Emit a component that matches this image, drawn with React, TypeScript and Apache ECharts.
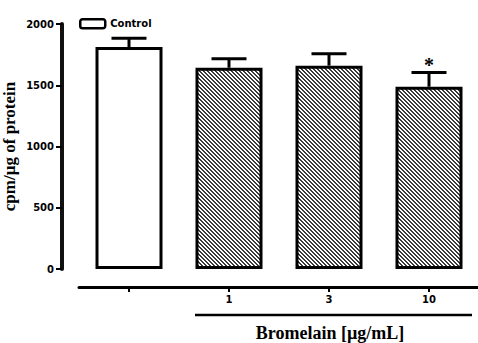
import React, { useEffect, useRef } from "react";
import * as echarts from "echarts";

const categories = ["", "1", "3", "10"];
const controlValues = [1812, "-", "-", "-"];
const bromelainValues = ["-", 1643, 1660, 1488];
const errorUpper = [1883, 1717, 1757, 1605];
const significant = [false, false, false, true];
const yTicks = { min: 0, max: 2000, interval: 500 };

function makeHatch(): HTMLCanvasElement {
  const c = document.createElement("canvas");
  c.width = 4;
  c.height = 4;
  const ctx = c.getContext("2d")!;
  ctx.fillStyle = "#ffffff";
  ctx.fillRect(0, 0, 4, 4);
  ctx.fillStyle = "#3a3a3a";
  for (let i = 0; i < 4; i++) {
    ctx.fillRect(i, i, 1, 1);
    ctx.fillRect((i + 1) % 4, i, 1, 1);
  }
  return c;
}

export default function App() {
  const ref = useRef<HTMLDivElement>(null);
  useEffect(() => {
    const chart = echarts.init(ref.current!, null, { renderer: "svg" });
    const hatch = makeHatch();
    const means = categories.map((_, i) =>
      typeof controlValues[i] === "number" ? (controlValues[i] as number) : (bromelainValues[i] as number)
    );
    const tickFont = { fontFamily: "DejaVu Sans", fontWeight: "bold" as const, fontSize: 10, color: "#000" };
    chart.setOption({
      animation: false,
      grid: { left: 79, width: 400, top: 24, bottom: 74, outerBoundsMode: "none", containLabel: false },
      legend: {
        data: ["Control"],
        left: 74,
        top: 13,
        itemWidth: 25,
        itemHeight: 9,
        itemGap: 4,
        textStyle: { ...tickFont, fontSize: 10 },
        itemStyle: { borderColor: "#000", borderWidth: 2.5, color: "#fff" },
      },
      xAxis: {
        type: "category",
        data: categories,
        offset: 18,
        axisLine: { show: true, onZero: false, lineStyle: { color: "#000", width: 3 } },
        axisTick: { show: true, alignWithLabel: true, length: 5, lineStyle: { color: "#000", width: 2 } },
        axisLabel: { ...tickFont, margin: 7 },
      },
      yAxis: {
        type: "value",
        min: yTicks.min,
        max: yTicks.max,
        interval: yTicks.interval,
        offset: 17,
        name: "cpm/µg of protein",
        nameLocation: "middle",
        nameRotate: 90,
        nameGap: 44,
        nameMoveOverlap: false,
        nameTextStyle: { fontFamily: "Liberation Serif", fontWeight: "bold", fontSize: 17, color: "#000" },
        axisLine: { show: true, onZero: false, lineStyle: { color: "#111", width: 4 } },
        axisTick: { show: true, length: 6, lineStyle: { color: "#000", width: 2 } },
        axisLabel: { ...tickFont, margin: 8, formatter: (v: number) => String(v) },
        splitLine: { show: false },
      },
      series: [
        {
          name: "Control",
          type: "bar",
          data: controlValues,
          barWidth: 67,
          barGap: "-100%",
          itemStyle: { color: "#fff", borderColor: "#000", borderWidth: 3 },
        },
        {
          name: "Bromelain",
          type: "bar",
          data: bromelainValues,
          barWidth: 67,
          itemStyle: { color: { image: hatch, repeat: "repeat" }, borderColor: "#000", borderWidth: 3 },
        },
        {
          name: "error",
          type: "custom",
          data: categories.map((_, i) => [i, means[i], errorUpper[i]]),
          z: 5,
          renderItem: (params: any, api: any) => {
            const i = api.value(0);
            const base = api.coord([i, api.value(1)]);
            const top = api.coord([i, api.value(2)]);
            const style = { stroke: "#000", lineWidth: 3 };
            const children: any[] = [
              { type: "line", shape: { x1: base[0], y1: base[1], x2: top[0], y2: top[1] }, style },
              { type: "line", shape: { x1: top[0] - 17.5, y1: top[1], x2: top[0] + 17.5, y2: top[1] }, style },
            ];
            if (significant[i]) {
              children.push({
                type: "text",
                style: {
                  text: "*",
                  x: top[0],
                  y: top[1] + 3,
                  align: "center",
                  verticalAlign: "bottom",
                  font: "bold 20px 'Liberation Serif'",
                  fill: "#000",
                },
              });
            }
            return { type: "group", children };
          },
        },
      ],
      graphic: [
        {
          type: "line",
          shape: { x1: 195, y1: 315, x2: 472, y2: 315 },
          style: { stroke: "#000", lineWidth: 2.5 },
        },
        {
          type: "text",
          x: 330,
          y: 342,
          style: {
            text: "Bromelain [µg/mL]",
            align: "center",
            verticalAlign: "bottom",
            font: "bold 18px 'Liberation Serif'",
            fill: "#000",
          },
        },
      ],
    });
    return () => chart.dispose();
  }, []);
  return <div ref={ref} style={{ width: 478, height: 343, position: "absolute", left: 0, top: 0 }} />;
}
